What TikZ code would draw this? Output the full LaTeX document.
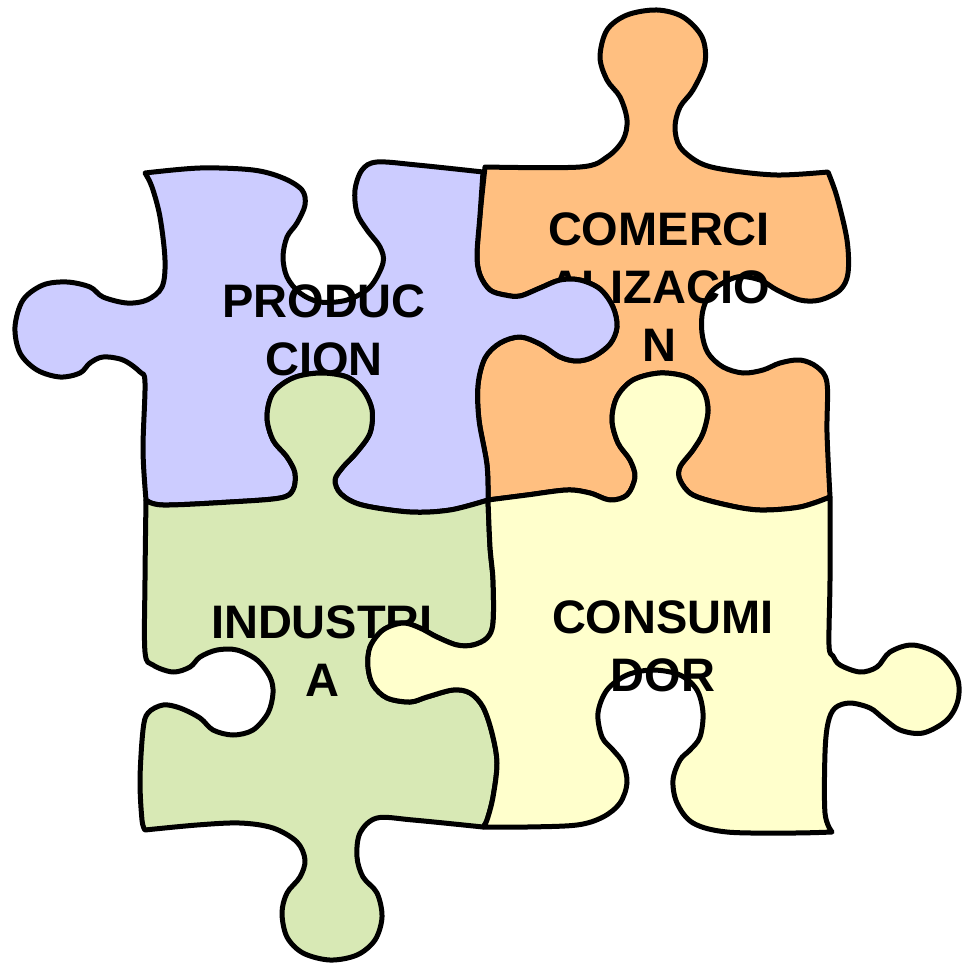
\documentclass[tikz,border=0pt]{standalone}
\usepackage{fontspec}
\setmainfont{Liberation Sans}
\definecolor{pblue}{HTML}{CCCCFF}
\definecolor{porange}{HTML}{FFBF80}
\definecolor{pgreen}{HTML}{D8E9B5}
\definecolor{pyellow}{HTML}{FFFFCC}
\tikzset{
  piece/.style={draw=black, line width=5pt, line join=round},
  edge/.style={smooth, tension=0.55},
  lbl/.style={inner sep=0pt, align=center, font=\fontsize{47}{58}\selectfont\bfseries}
}
\begin{document}
\begin{tikzpicture}[x=1pt,y=-1pt]
\useasboundingbox (0,0) rectangle (961,966);
% ---------------- COMERCIALIZACION (orange) ----------------
\path[piece, fill=porange]
  plot[edge] coordinates {(485,167) (580,167) (607,157) (623,140) (627,120) (620,97) (607,80) (600,57) (607,30) (627,15) (657,10) (683,17) (702,37) (705,63) (693,90) (680,107) (675,127) (680,147) (700,163) (727,170) (777,175) (828,172)}
  -- plot[edge] coordinates {(828,172) (837,197) (847,240) (848,273) (840,290) (820,300) (800,300) (777,290) (760,280) (737,277) (713,290) (703,310) (702,333) (708,353) (723,367) (743,373) (763,370) (780,363) (800,360) (817,367) (827,383) (827,433) (830,497)}
  -- plot[edge] coordinates {(830,497) (800,507) (760,510) (727,505) (693,495) (680,480) (680,467) (693,450) (703,433) (708,410) (703,390) (687,377) (660,373) (633,380) (617,397) (612,420) (618,443) (630,460) (635,477) (627,495) (610,500) (590,493) (567,490) (527,495) (488,500)}
  -- plot[edge] coordinates {(488,500) (487,465) (479,420) (478,385) (485,358) (500,343) (520,337) (540,344) (560,357) (577,361) (593,357) (610,344) (617,327) (613,307) (600,289) (580,280) (560,280) (540,288) (520,296) (505,295) (490,290) (480,275) (477,255) (480,215) (485,167)}
  -- cycle;
\node[lbl] (comercializacion) at (659,287) {COMERCI\\ALIZACIO\\N};
% ---------------- PRODUCCION (blue) ----------------
\path[piece, fill=pblue]
  plot[edge] coordinates {(145,173) (200,168) (253,170) (283,178) (302,190) (305,205) (297,223) (287,237) (283,257) (287,277) (300,293) (320,302) (347,300) (370,287) (383,263) (380,247) (367,230) (357,213) (355,190) (362,170) (377,162) (417,165) (483,172)}
  -- plot[edge] coordinates {(483,172) (480,215) (477,255) (480,275) (490,290) (505,295) (520,296) (540,288) (560,280) (580,280) (600,289) (613,307) (617,327) (610,344) (593,357) (577,361) (560,357) (540,344) (520,337) (500,343) (485,358) (478,385) (479,420) (487,465) (488,500)}
  -- plot[edge] coordinates {(488,500) (450,510) (410,512) (362,505) (341,494) (335,480) (343,467) (357,452) (370,433) (372,410) (363,390) (347,377) (320,373) (293,378) (273,393) (267,417) (273,440) (287,457) (295,473) (293,490) (280,498) (230,502) (163,505) (146,500)}
  -- plot[edge] coordinates {(146,500) (143,450) (145,383) (140,372) (123,360) (103,357) (90,363) (80,373) (60,377) (37,370) (20,353) (15,327) (23,300) (43,285) (67,282) (90,287) (103,297) (127,303) (147,300) (162,287) (165,260) (160,217) (152,187) (145,173)}
  -- cycle;
\node[lbl] (produccion) at (324,330) {PRODUC\\CION};
% ---------------- INDUSTRIA (green) ----------------
\path[piece, fill=pgreen]
  plot[edge] coordinates {(146,500) (163,505) (230,502) (280,498) (293,490) (295,473) (287,457) (273,440) (267,417) (273,393) (293,378) (320,373) (347,377) (363,390) (372,410) (370,433) (357,452) (343,467) (335,480) (341,494) (362,505) (410,512) (450,510) (488,500)}
  -- plot[edge] coordinates {(488,500) (490,547) (493,580) (493,623) (487,638) (473,645) (457,645) (437,637) (420,628) (403,623) (383,630) (370,647) (368,667) (373,685) (387,698) (410,702) (427,697) (453,690) (470,693) (483,707) (492,733) (497,763) (493,797) (487,820) (483,827)}
  -- plot[edge] coordinates {(483,827) (413,820) (377,818) (360,833) (357,857) (363,877) (377,893) (382,917) (375,940) (357,955) (330,960) (303,953) (287,937) (282,913) (287,893) (300,877) (305,860) (297,842) (273,828) (240,823) (197,825) (145,830)}
  -- plot[edge] coordinates {(145,830) (142,820) (140,780) (143,730) (148,713) (163,705) (180,708) (200,718) (213,730) (233,735) (253,730) (268,713) (273,693) (270,677) (257,660) (237,650) (217,650) (200,657) (190,667) (173,672) (153,665) (145,652) (145,580) (146,500)}
  -- cycle;
\node[lbl] (industria) at (322,651) {INDUSTRI\\A};
% ---------------- CONSUMIDOR (yellow) ----------------
\path[piece, fill=pyellow]
  plot[edge] coordinates {(488,500) (527,495) (567,490) (590,493) (610,500) (627,495) (635,477) (630,460) (618,443) (612,420) (617,397) (633,380) (660,373) (687,377) (703,390) (708,410) (703,433) (693,450) (680,467) (680,480) (693,495) (727,505) (760,510) (800,507) (830,497)}
  -- plot[edge] coordinates {(830,497) (830,580) (829,645) (833,656) (840,665) (860,672) (877,667) (890,652) (913,645) (940,655) (957,677) (958,700) (947,720) (923,733) (900,730) (883,718) (870,708) (850,703) (835,708) (828,723) (825,753) (825,813) (832,832)}
  -- plot[edge] coordinates {(832,832) (793,833) (727,832) (693,823) (677,803) (673,780) (680,760) (690,750) (700,737) (703,713) (697,690) (680,675) (653,670) (627,675) (607,690) (598,713) (602,737) (613,750) (623,763) (627,783) (620,803) (603,817) (577,825) (527,827) (483,827)}
  -- plot[edge] coordinates {(483,827) (487,820) (493,797) (497,763) (492,733) (483,707) (470,693) (453,690) (427,697) (410,702) (387,698) (373,685) (368,667) (370,647) (383,630) (403,623) (420,628) (437,637) (457,645) (473,645) (487,638) (493,623) (493,580) (490,547) (488,500)}
  -- cycle;
\node[lbl] (consumidor) at (663,646) {CONSUMI\\DOR};
\end{tikzpicture}
\end{document}
